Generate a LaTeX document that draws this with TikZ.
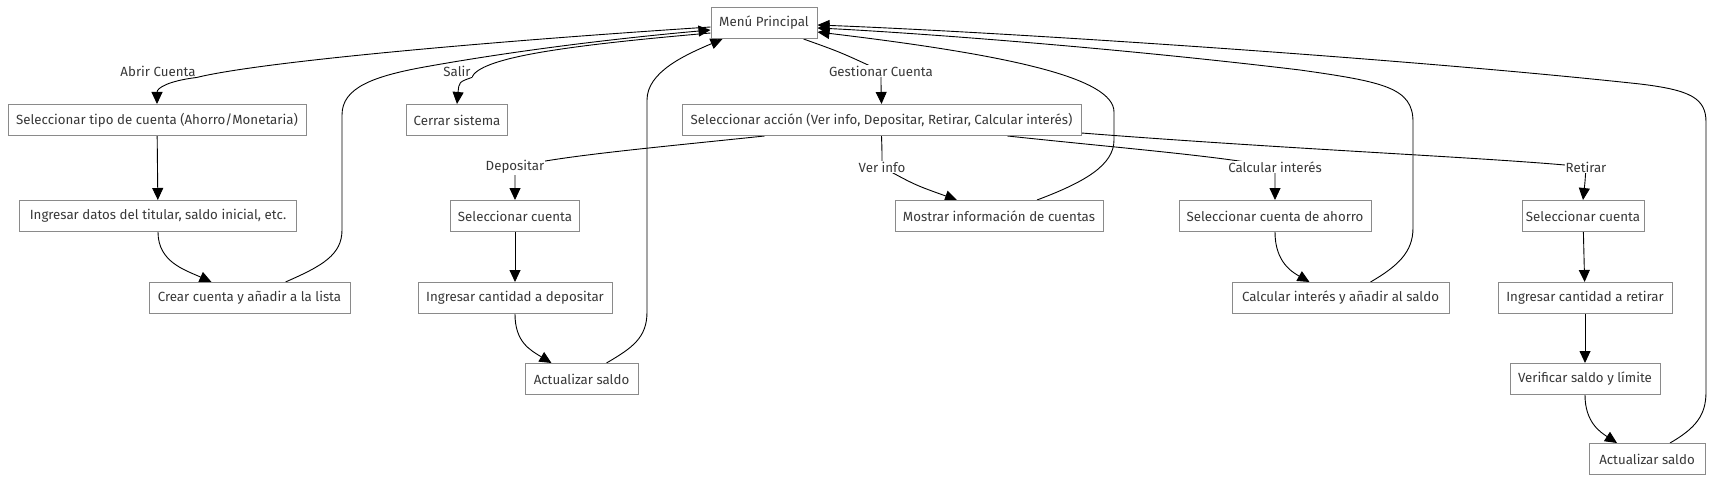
\documentclass[tikz,border=0pt]{standalone}
\usepackage{fontspec}
\setmainfont{Fira Sans}
\usetikzlibrary{arrows.meta,backgrounds}
\definecolor{txt}{HTML}{383838}
\definecolor{rim}{HTML}{8A8A8A}

\begin{document}
\begin{tikzpicture}[x=1pt,y=-1pt,
    box/.style={draw=rim,line width=1pt,fill=white,text=txt,inner xsep=0pt,
      minimum height=31pt,font=\fontsize{13.3}{15}\selectfont},
    lbl/.style={fill=white,text=txt,inner sep=1pt,font=\fontsize{13.3}{15}\selectfont},
    arr/.style={-{Triangle[length=12pt,width=11pt]},line width=0.9pt}]
  \useasboundingbox (0,0) rectangle (1716,484);
  \node[box,minimum width=106pt] (menu) at (764,23) {Menú Principal};
  \node[box,minimum width=298pt] (tipo) at (157,120) {Seleccionar tipo de cuenta (Ahorro/Monetaria)};
  \node[box,minimum width=277pt] (datos) at (158,216) {Ingresar datos del titular, saldo inicial, etc.};
  \node[box,minimum width=201pt] (crear) at (249.5,298) {Crear cuenta y añadir a la lista};
  \node[box,minimum width=101pt] (cerrar) at (457,120) {Cerrar sistema};
  \node[box,minimum width=399pt] (accion) at (881.5,120) {Seleccionar acción (Ver info, Depositar, Retirar, Calcular interés)};
  \node[box,minimum width=129pt] (selDep) at (515,216) {Seleccionar cuenta};
  \node[box,minimum width=194pt] (cantDep) at (515,298) {Ingresar cantidad a depositar};
  \node[box,minimum width=113pt] (actDep) at (581.5,379) {Actualizar saldo};
  \node[box,minimum width=208pt] (mostrar) at (999,216) {Mostrar información de cuentas};
  \node[box,minimum width=192pt] (selAho) at (1275,216) {Seleccionar cuenta de ahorro};
  \node[box,minimum width=217pt] (calcInt) at (1340.5,298) {Calcular interés y añadir al saldo};
  \node[box,minimum width=122pt] (selRet) at (1583,216) {Seleccionar cuenta};
  \node[box,minimum width=174pt] (cantRet) at (1585,298) {Ingresar cantidad a retirar};
  \node[box,minimum width=150pt] (verif) at (1585,379) {Verificar saldo y límite};
  \node[box,minimum width=116pt] (actRet) at (1647,459) {Actualizar saldo};

  \node[lbl] (abrir) at (158,71) {Abrir Cuenta};
  \node[lbl] (salir) at (457,71) {Salir};
  \node[lbl] (gestion) at (881,71) {Gestionar Cuenta};
  \node[lbl] (depo) at (515,167) {Depositar};
  \node[lbl] (ver) at (882,167) {Ver info};
  \node[lbl] (calc) at (1275,167) {Calcular interés};
  \node[lbl] (retiro) at (1586,167) {Retirar};

  \begin{scope}[on background layer]
  % from the main menu
  \draw[arr] ([yshift=-4pt]menu.west) .. controls (480,42) and (260,62) .. (abrir.south east)
    .. controls (168,81) and (157,88) .. (tipo.north);
  \draw[arr] ([yshift=-10pt]menu.west) .. controls (560,46) and (480,58) .. (salir.south east)
    .. controls (459,82) .. (cerrar.north);
  \draw[arr] ([xshift=-14pt]menu.south east) .. controls (840,52) .. (gestion.center)
    .. controls (881,85) .. (accion.north);
  \draw[arr] (tipo) -- (datos);
  \draw[arr] (datos.south) .. controls (158,262) and (185,270) .. ([xshift=-38pt]crear.north);
  \draw[arr] ([xshift=36pt]crear.north) .. controls (322,266) and (342,255) .. (342,230) -- (342,115)
    .. controls (342,88) and (372,76) .. (430,66) .. controls (520,50) and (620,38) .. ([yshift=-7pt]menu.west);
  % accion branches
  \draw[arr] ([xshift=-117pt]accion.south) .. controls (650,148) and (560,156) .. (depo.center)
    .. controls (515,182) .. (selDep.north);
  \draw[arr] (accion.south) .. controls (882,150) .. (ver.center)
    .. controls (915,185) .. ([xshift=-42pt]mostrar.north);
  \draw[arr] ([xshift=126pt]accion.south) .. controls (1120,148) and (1220,156) .. (calc.center)
    .. controls (1275,182) .. (selAho.north);
  \draw[arr] ([yshift=-13pt]accion.east) .. controls (1300,150) and (1500,158) .. (retiro.center)
    .. controls (1585,182) .. (selRet.north);
  % deposit
  \draw[arr] (selDep) -- (cantDep);
  \draw[arr] (cantDep.south) .. controls (515,342) and (530,350) .. ([xshift=-30pt]actDep.north);
  \draw[arr] ([xshift=25pt]actDep.north) .. controls (632,348) and (647,338) .. (647,312) -- (647,100)
    .. controls (647,72) and (685,55) .. ([xshift=12pt]menu.south west);
  % info and interest
  \draw[arr] ([xshift=38pt]mostrar.north) .. controls (1085,182) and (1114,165) .. (1114,140) -- (1114,112)
    .. controls (1114,78) and (1010,55) .. ([yshift=-9pt]menu.east);
  \draw[arr] (selAho.south) .. controls (1275,262) and (1292,272) .. ([xshift=-31pt]calcInt.north);
  \draw[arr] ([xshift=30pt]calcInt.north) .. controls (1398,266) and (1413,252) .. (1413,228) -- (1413,122)
    .. controls (1413,88) and (1385,82) .. (1300,70) .. controls (1100,46) and (900,32) .. ([yshift=-5pt]menu.east);
  % withdraw
  \draw[arr] (selRet) -- (cantRet);
  \draw[arr] (cantRet) -- (verif);
  \draw[arr] (verif.south) .. controls (1585,422) and (1600,432) .. ([xshift=-30pt]actRet.north);
  \draw[arr] ([xshift=23pt]actRet.north) .. controls (1696,428) and (1706,415) .. (1706,392) -- (1706,122)
    .. controls (1706,98) and (1690,90) .. (1640,84) .. controls (1400,58) and (1000,32) .. ([yshift=-2pt]menu.east);
  \end{scope}
\end{tikzpicture}
\end{document}
